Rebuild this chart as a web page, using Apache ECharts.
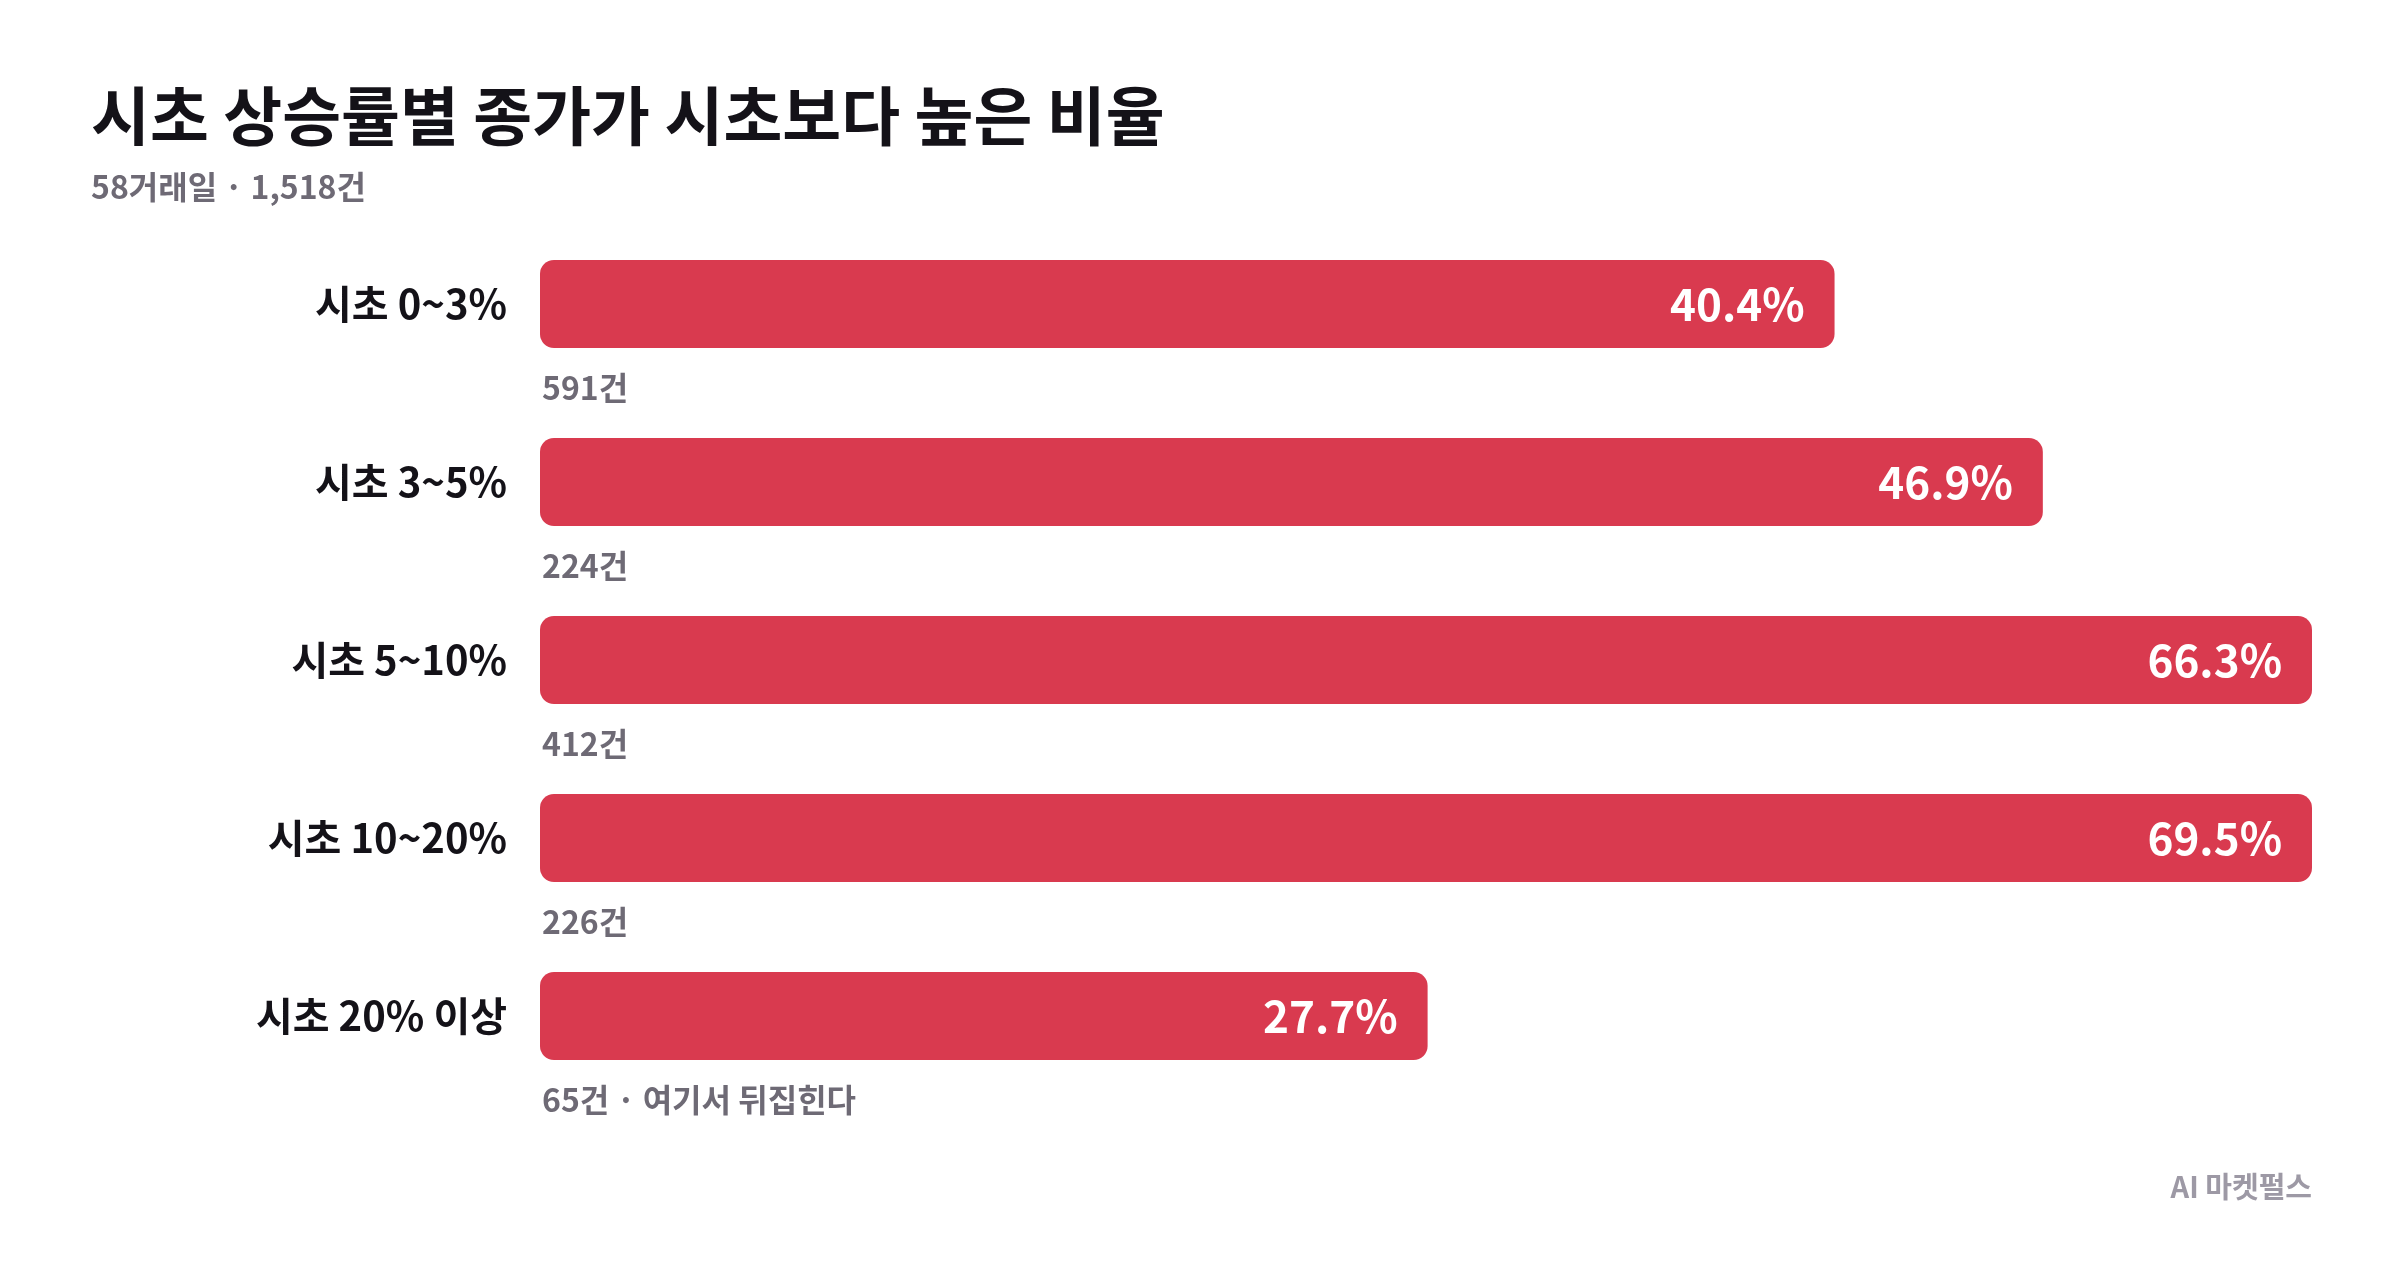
<!DOCTYPE html>
<html>
<head>
<meta charset="utf-8">
<script src="https://cdn.jsdelivr.net/npm/echarts@6/dist/echarts.min.js"></script>
<style>
html,body{margin:0;padding:0;background:#fff;}
#chart{width:2400px;height:1286px;}
</style>
</head>
<body>
<div id="chart"></div>
<script>
const categories = ['시초 0~3%', '시초 3~5%', '시초 5~10%', '시초 10~20%', '시초 20% 이상'];
const ratios = [40.4, 46.9, 66.3, 69.5, 27.7];
const counts = [591, 224, 412, 226, 65];
const notes = ['', '', '', '', '여기서 뒤집힌다'];
const titleText = '시초 상승률별 종가가 시초보다 높은 비율';
const subtitleText = '58거래일 · 1,518건';
const footerText = 'AI 마켓펄스';
const axisMax = 55.3;

const FONT = '"Noto Sans CJK KR", "Noto Sans", sans-serif';
const shown = ratios.map(v => Math.min(v, axisMax));

const chart = echarts.init(document.getElementById('chart'), null, {renderer: 'canvas'});
chart.setOption({
  backgroundColor: '#ffffff',
  animation: false,
  title: [
    {text: titleText, left: 91, top: 84, padding: 0,
     textStyle: {fontFamily: FONT, fontSize: 64, fontWeight: 'bold', color: '#141218'}},
    {text: subtitleText, left: 91, top: 171, padding: 0,
     textStyle: {fontFamily: FONT, fontSize: 32, fontWeight: 'bold', color: '#6e6a75'}},
    {text: footerText, right: 88, top: 1172, padding: 0,
     textStyle: {fontFamily: FONT, fontSize: 29, fontWeight: 'bold', color: '#9d99a5'}}
  ],
  grid: {left: 540, right: 88, top: 215, bottom: 181, containLabel: false},
  xAxis: {type: 'value', min: 0, max: axisMax, show: false},
  yAxis: {
    type: 'category', data: categories, inverse: true,
    axisLine: {show: false}, axisTick: {show: false}, splitLine: {show: false},
    axisLabel: {margin: 33, fontFamily: FONT, fontSize: 40, fontWeight: 'bold', color: '#141218'}
  },
  series: [
    {
      type: 'bar', data: shown, barWidth: 88,
      itemStyle: {color: '#D93A4F', borderRadius: 14},
      label: {
        show: true, position: 'insideRight', distance: 30,
        formatter: p => ratios[p.dataIndex].toFixed(1) + '%',
        fontFamily: FONT, fontSize: 44, fontWeight: 'bold', color: '#ffffff'
      },
      silent: true
    },
    {
      type: 'bar', data: shown, barWidth: 88, barGap: '-100%',
      itemStyle: {color: 'rgba(0,0,0,0)'},
      label: {
        show: true, position: ['0%', '100%'], offset: [2, 40],
        align: 'left', verticalAlign: 'middle',
        formatter: p => counts[p.dataIndex] + '건' + (notes[p.dataIndex] ? ' · ' + notes[p.dataIndex] : ''),
        fontFamily: FONT, fontSize: 32, fontWeight: 'bold', color: '#6e6a75'
      },
      silent: true
    }
  ]
});
</script>
</body>
</html>
